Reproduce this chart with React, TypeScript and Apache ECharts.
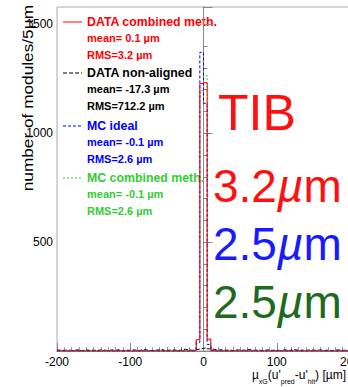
import React, { useEffect, useRef } from "react";
import * as echarts from "echarts";

// Histogram binning: 5 µm bins from -200 to 200 µm
const binStart = -200;
const binWidth = 5;
const binCount = 80;

// Central bins [-20,-15) ... [15,20) for the narrow distributions
const centralStart = -20;
const redCentral = [0, 3, 52, 1228, 1232, 55, 4, 0];
const blueCentral = [0, 2, 38, 1372, 1138, 30, 2, 0];
const greenCentral = [0, 3, 50, 1195, 1266, 48, 3, 0];

// DATA non-aligned: broad, low counts across the whole range
const blackCounts = [
  4, 3, 5, 2, 4, 6, 2, 5, 3, 4,
  2, 5, 4, 2, 5, 3, 6, 2, 4, 3,
  5, 3, 2, 6, 4, 2, 4, 5, 7, 3,
  4, 5, 2, 4, 8, 5, 3, 6, 9, 12,
  14, 10, 7, 4, 6, 3, 5, 2, 5, 4,
  4, 2, 6, 3, 5, 2, 4, 5, 3, 4,
  2, 5, 4, 2, 6, 3, 4, 2, 5, 4,
  3, 5, 2, 4, 2, 4, 5, 3, 4, 2,
];

const yLabelValues = [500, 1000, 1500];

const legendTitles = ["DATA combined meth.", "DATA non-aligned", "MC ideal", "MC combined meth."];
const legendMeans = ["mean= 0.1 µm", "mean= -17.3 µm", "mean= -0.1 µm", "mean= -0.1 µm"];
const legendRms = ["RMS=3.2 µm", "RMS=712.2 µm", "RMS=2.6 µm", "RMS=2.6 µm"];
const legendColors = ["#ff0000", "#000000", "#0000ff", "#33cc33"];

const bigTexts = ["TIB", "3.2{i|µ}m", "2.5{i|µ}m", "2.5{i|µ}m"];
const bigColors = ["#ff1010", "#ff1010", "#1a1aff", "#1e6a1e"];

const FONT = "'Liberation Sans', Arial, sans-serif";

function expandCentral(central: number[]): number[] {
  const out: number[] = new Array(binCount).fill(0);
  const off = (centralStart - binStart) / binWidth;
  central.forEach((v, i) => (out[off + i] = v));
  return out;
}

function toStepData(counts: number[]): [number, number][] {
  const pts: [number, number][] = counts.map((c, i) => [binStart + i * binWidth, c]);
  pts.push([binStart + binCount * binWidth, 0]);
  return pts;
}

export default function App() {
  const ref = useRef<HTMLDivElement>(null);
  useEffect(() => {
    if (!ref.current) return;
    const chart = echarts.init(ref.current, undefined, { renderer: "svg" });

    const legendY = [22, 73, 126, 178];
    const dashes: any[] = ["solid", [4, 2], [3, 2], [2, 2]];
    const graphics: any[] = [];
    legendTitles.forEach((t, i) => {
      const y = legendY[i];
      graphics.push({
        type: "line",
        shape: { x1: 63, y1: y, x2: 82, y2: y },
        style: { stroke: legendColors[i], lineWidth: 1, lineDash: dashes[i] === "solid" ? null : dashes[i] },
      });
      graphics.push({
        type: "text", x: 87, y, scaleX: 0.95,
        style: { text: t, fill: legendColors[i], font: `bold 13px ${FONT}`, align: "left", verticalAlign: "middle", textAlign: "left", textVerticalAlign: "middle" },
      });
      graphics.push({
        type: "text", x: 87, y: y + 16,
        style: { text: legendMeans[i], fill: legendColors[i], font: `bold 11px ${FONT}`, align: "left", verticalAlign: "middle", textAlign: "left", textVerticalAlign: "middle" },
      });
      graphics.push({
        type: "text", x: 87, y: y + 33,
        style: { text: legendRms[i], fill: legendColors[i], font: `bold 11px ${FONT}`, align: "left", verticalAlign: "middle", textAlign: "left", textVerticalAlign: "middle" },
      });
    });

    const bigY = [113, 186, 244, 302];
    bigTexts.forEach((t, i) => {
      graphics.push({
        type: "text", x: i === 0 ? 218 : 213, y: bigY[i],
        style: {
          text: t, fill: bigColors[i], font: `${i === 0 ? 50 : 46}px ${FONT}`,
          align: "left", verticalAlign: "middle", textAlign: "left", textVerticalAlign: "middle",
          rich: { i: { fontStyle: "italic", fontSize: 46, fontFamily: FONT, fill: bigColors[i] } },
        },
      });
    });

    graphics.push({
      type: "text", x: 27, y: 5, rotation: Math.PI / 2, scaleX: 1.15,
      style: { text: "number of modules/5µm", fill: "#000", font: `15px ${FONT}`, align: "right", verticalAlign: "middle", textAlign: "right", textVerticalAlign: "middle" },
    });

    graphics.push({
      type: "text", x: 346, y: 377,
      style: {
        text: "{n|µ}{s|xG}{n|(u'}{s|pred}{n|-u'}{s|hit}{n|) [µm]}",
        fill: "#000", align: "right", verticalAlign: "middle", textAlign: "right", textVerticalAlign: "middle",
        rich: {
          n: { fontSize: 12, fontFamily: FONT, fill: "#000", verticalAlign: "bottom", padding: [0, 0, 4, 0] },
          s: { fontSize: 7, fontFamily: FONT, fill: "#000", verticalAlign: "bottom" },
        },
      },
    });

    const mkSeries = (counts: number[], color: string, type: any, z: number) => ({
      type: "line",
      step: "end",
      data: toStepData(counts),
      showSymbol: false,
      symbol: "none",
      lineStyle: { color, width: 1, type },
      itemStyle: { color },
      z,
      silent: true,
    });

    chart.setOption({
      animation: false,
      textStyle: { fontFamily: FONT },
      grid: {
        left: 57, right: -2, top: 7, bottom: 36, containLabel: false, outerBoundsMode: "none",
        show: true, borderColor: "#aaa", borderWidth: 1,
      },
      xAxis: {
        type: "value", min: -200, max: 200, interval: 100,
        axisLine: { lineStyle: { color: "#888" } },
        axisTick: { inside: true, length: 8, lineStyle: { color: "#888" } },
        minorTick: { show: true, splitNumber: 10, length: 4, lineStyle: { color: "#999" } },
        splitLine: { show: false },
        axisLabel: { color: "#000", fontSize: 12, margin: 5, fontFamily: FONT },
      },
      yAxis: {
        type: "value", min: 0, max: 1580, interval: 500,
        axisLine: { show: true, lineStyle: { color: "#888" } },
        axisTick: { show: true, inside: true, length: 9, lineStyle: { color: "#888" } },
        minorTick: { show: true, splitNumber: 5, length: 4, lineStyle: { color: "#888" } },
        splitLine: { show: false },
        axisLabel: {
          color: "#000", fontSize: 12, margin: 4, fontFamily: FONT,
          formatter: (v: number) => (yLabelValues.includes(v) ? String(v) : ""),
        },
      },
      series: [
        mkSeries(blackCounts, "#000", [4, 2], 2),
        mkSeries(expandCentral(greenCentral), "#33cc33", [2, 2], 3),
        mkSeries(expandCentral(blueCentral), "#0000ff", [3, 2], 4),
        mkSeries(expandCentral(redCentral), "#ff0000", "solid", 5),
      ],
      graphic: { elements: graphics },
    });
    return () => chart.dispose();
  }, []);
  return <div ref={ref} style={{ width: 348, height: 387, position: "absolute", left: 0, top: 0, background: "#fff" }} />;
}
